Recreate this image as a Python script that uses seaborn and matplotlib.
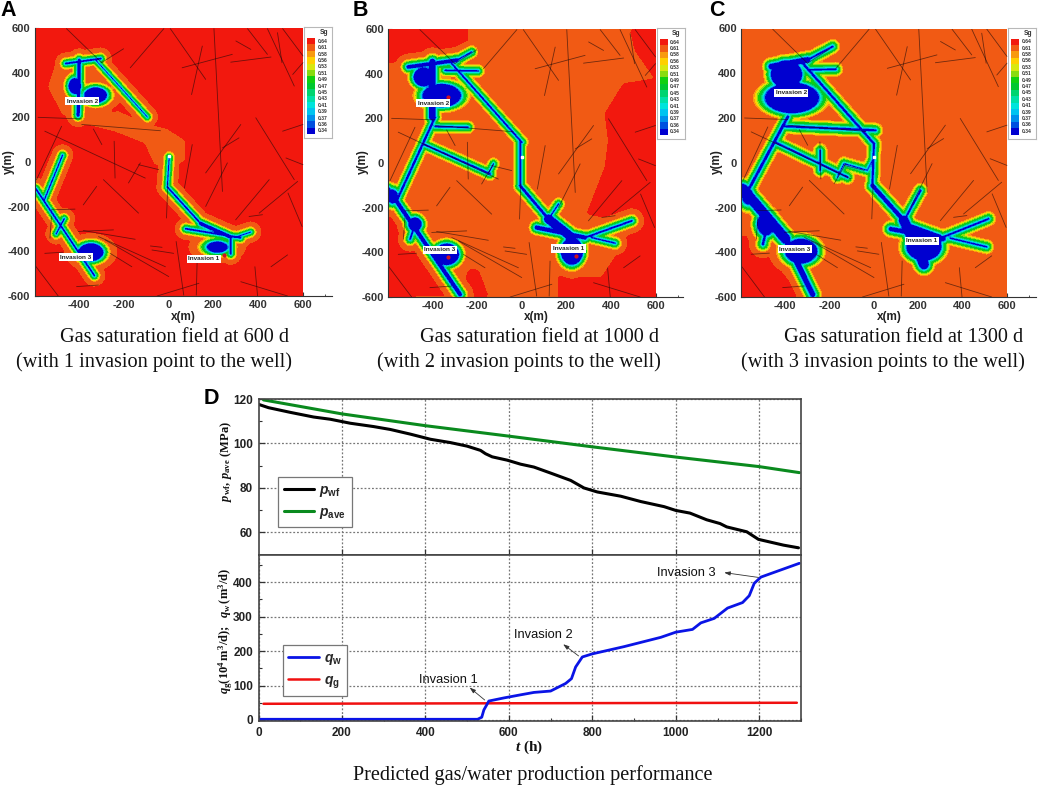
import numpy as np
import pandas as pd
import seaborn as sns
import matplotlib
matplotlib.use("Agg")
import matplotlib.pyplot as plt
from matplotlib.path import Path
from matplotlib.patches import Rectangle
from matplotlib.ticker import MultipleLocator

# ---- panel D curves
t_pwf = [0, 24, 76, 132, 172, 220, 276, 316, 364, 412, 460, 500, 532, 544, 560, 596, 628, 660, 700, 748,
         780, 812, 868, 916, 972, 1000, 1034, 1074, 1106, 1122, 1170, 1198, 1258, 1294]
pwf = [117.6, 116.1, 114, 111.9, 110.9, 109.1, 107.6, 106.3, 104.2, 101.9, 100.4, 98.8, 96.9, 95.4, 94, 92.5, 90.7, 89.4,
       86.7, 83.4, 80, 78.2, 76.3, 73.9, 71.6, 69.9, 68.7, 65.7, 64, 62.5, 60.3, 56.9, 54.3, 53.1]
t_pave = [12, 200, 400, 600, 800, 1000, 1200, 1296]
pave = [119.6, 113.3, 108, 103.3, 98.5, 93.9, 89.6, 86.9]
t_qw = [0, 525, 535, 540, 552, 588, 628, 660, 700, 736, 750, 760, 776, 800, 876, 964, 1000, 1040, 1060, 1092,
        1124, 1160, 1176, 1188, 1204, 1296]
qw = [2, 2, 8, 29, 55, 64, 73, 80, 84, 106, 120, 154, 183, 192, 213, 240, 255, 263, 282, 295,
      325, 341, 361, 397, 415, 455]
t_qg = [12, 600, 1290]
qg = [47, 48.5, 50]

# ---- fractures shared by the three maps: x0, y0, x1, y1
fractures = [
    (-22, 597, -172, 422), (7, 597, 165, 370), (202, 597, 240, -132), (60, 422, 284, 482), (150, 519, 102, 302),
    (277, 447, 457, 470), (352, 597, 441, 482), (300, 542, 367, 504), (486, 579, 506, 445), (441, 597, 561, 340),
    (509, 597, 600, 475), (554, 392, 600, 445), (509, 138, 600, 168), (389, 198, 561, -79), (524, 18, 600, -12),
    (322, 168, 165, -49), (314, 108, 240, 63), (105, 78, 70, -117), (262, -4, 165, -199), (-457, 597, -300, 445),
    (-202, 507, -300, 445), (-584, 200, -389, 193), (-389, 168, -37, 140), (-337, 148, -299, 78), (-244, 93, -240, -72),
    (-180, -94, -127, -4), (-554, 138, -105, -72), (-135, -12, -45, -34), (-479, 160, -591, -79), (-322, -109, -382, -192),
    (-292, -79, -135, -229), (-419, -211, -524, -214), (-524, -244, -531, -341), (-404, -311, -247, -304),
    (-382, -307, -150, -346), (-314, -334, -15, -469), (-284, -349, 0, -513), (-262, -409, -165, -469),
    (-554, -409, -472, -404), (-82, -376, -30, -382), (-75, -394, 22, -409), (33, -356, 67, -596), (-4, -94, -10, -251),
    (127, -439, 123, -596), (-52, -600, 135, -543), (322, -536, 531, -600), (385, -469, 397, -600), (457, -469, 531, -416),
    (299, -259, 449, -79), (404, -229, 576, -87), (359, -244, 419, -236), (533, -139, 596, -289), (-599, -461, -494, -600),
    (-412, -558, -314, -551),
]

# ---- water channels per map: x0, y0, x1, y1, half width
channels_a = [
    (-460, 441, -304, 463, 4), (-400, 456, -405, 209, 7), (-327, 457, -96, 202, 2), (-475, 30, -557, -172, 3),
    (-594, -120, -333, -508, 4), (-503, -321, -467, -254, 3), (2, 22, -6, -105, 2), (-6, -112, 143, -276, 4),
    (76, -299, 321, -339, 4), (143, -276, 277, -336, 8), (277, -336, 277, -411, 4), (292, -339, 366, -314, 2),
]
blobs_a = [(-327, 299, 50, 35), (-348, -404, 55, 40), (217, -381, 45, 25), (-420, 340, 28, 35)]
channels_b = [
    (-509, 430, -292, 460, 8), (-292, 460, -225, 497, 3), (-344, 415, -195, 412, 3), (-401, 452, -401, 205, 14),
    (-314, 445, 0, 93, 4), (-389, 205, -561, -169, 5), (-389, 163, -240, 160, 3), (-442, 85, -142, -49, 4),
    (-127, -4, -150, -49, 2), (-599, -117, -277, -588, 9), (-479, -274, -501, -341, 4), (-7, 100, -7, -102, 4),
    (-7, -102, 120, -251, 6), (120, -251, 165, -184, 3), (67, -289, 284, -334, 9), (120, -251, 225, -334, 20),
    (284, -334, 494, -259, 4), (314, -334, 419, -359, 3),
]
blobs_b = [(-359, 302, 85, 52), (-440, 385, 45, 42), (-337, -409, 55, 48), (-479, -274, 30, 30), (225, -395, 50, 60),
           (-580, -150, 25, 30)]
channels_c = [
    (-464, 430, -299, 460, 12), (-299, 460, -187, 519, 4), (-299, 415, -172, 418, 3), (-322, 445, 0, 85, 5),
    (-389, 205, -584, -154, 6), (-404, 163, 7, 145, 4), (-449, 93, -120, -64, 4), (-243, 55, -243, -34, 3),
    (-135, -4, -165, -64, 2), (-135, -4, -30, -34, 2), (-30, -34, 0, 25, 2), (0, 85, -7, -94, 4),
    (-591, -117, -400, -340, 22), (-400, -340, -277, -588, 12), (-501, -364, -479, -274, 5), (-7, -102, 135, -259, 9),
    (135, -259, 210, -124, 4), (75, -296, 314, -341, 9), (135, -259, 225, -454, 22), (150, -290, 290, -340, 20),
    (300, -337, 516, -251, 4), (344, -337, 509, -376, 3),
]
blobs_c = [(-370, 290, 120, 68), (-395, 395, 70, 62), (-487, -274, 40, 50), (-329, -395, 72, 55), (225, -375, 78, 62),
           (-570, -150, 25, 35)]

# ---- background zones: orange inside a red field (A), red inside an orange field (B, C)
orange_a = [
    [(-229, 232), (-95, 172), (-6, 150), (76, 97), (76, 7), (24, -22), (-65, -15), (-110, 82), (-244, 135), (-393, 172)],
    [(-542, 336), (-505, 455), (-408, 485), (-304, 470), (-229, 276), (-274, 202), (-393, 157), (-482, 217)],
]
red_b = [
    [(-600, 600), (-240, 600), (-240, 540), (-374, 490), (-524, 467), (-600, 445)],
    [(487, 597), (509, 504), (599, 377), (457, 355), (374, 220), (389, 100), (374, -19), (292, -229), (389, -244),
     (509, -251), (457, -364), (359, -513), (254, -513), (165, -506), (165, -603), (602, -603), (602, 597)],
    [(-599, -169), (-516, -244), (-449, -439), (-284, -588), (-600, -600)],
    [(-240, -480), (-195, -480), (-150, -600), (-270, -600)],
]
red_c = [[(-600, -330), (-548, -330), (-330, -597), (-600, -600)]]

labels_a = [("Invasion 2", -387, 272), ("Invasion 3", -415, -426), ("Invasion 1", 158, -433)]
labels_b = [("Invasion 2", -397, 268), ("Invasion 3", -367, -389), ("Invasion 1", 210, -383)]
labels_c = [("Invasion 2", -374, 313), ("Invasion 3", -356, -386), ("Invasion 1", 217, -349)]
points = [(245, -415), (-330, -420), (-330, 295)]

level_labels = ["0.64", "0.61", "0.58", "0.56", "0.53", "0.51", "0.49", "0.47", "0.45", "0.43", "0.41", "0.39", "0.37",
                "0.36", "0.34"]
level_colors = ["#f2180e", "#f15a14", "#f89a10", "#ffd000", "#d8e810", "#88dc10", "#10d010", "#00c830", "#00d470",
                "#00e0a8", "#00e4dc", "#00c4f0", "#0090ec", "#0050e0", "#0000d0"]

W, H = 1038, 786


def px_axes(fig, left, top, right, bottom, **kw):
    return fig.add_axes([left / W, 1 - bottom / H, (right - left) / W, (bottom - top) / H], **kw)


def fig_text(fig, x, y, s, **kw):
    kw.setdefault("ha", "center")
    kw.setdefault("va", "center")
    fig.text(x / W, 1 - y / H, s, **kw)


def seg_dist(X, Y, x0, y0, x1, y1):
    dx, dy = x1 - x0, y1 - y0
    u = np.clip(((X - x0) * dx + (Y - y0) * dy) / (dx * dx + dy * dy), 0, 1)
    return np.hypot(X - x0 - u * dx, Y - y0 - u * dy)


def blur(Z, n=9):
    # soften zone corners, the source figure is a fuzzy raster
    k = np.ones(n) / n
    Z = np.apply_along_axis(lambda r: np.convolve(np.pad(r, n, mode="edge"), k, mode="same")[n:-n], 0, Z)
    return np.apply_along_axis(lambda r: np.convolve(np.pad(r, n, mode="edge"), k, mode="same")[n:-n], 1, Z)


def in_zones(X, Y, zones):
    pts = np.column_stack([X.ravel(), Y.ravel()])
    mask = np.zeros(X.shape)
    for z in zones:
        mask = np.maximum(mask, Path(z).contains_points(pts).reshape(X.shape).astype(float))
    return blur(mask)


def sg_field(X, Y, channels, blobs, base, scale):
    d = np.full(X.shape, 1e9)
    for x0, y0, x1, y1, w in channels:
        d = np.minimum(d, seg_dist(X, Y, x0, y0, x1, y1) - w)
    for cx, cy, rx, ry in blobs:
        d = np.minimum(d, (np.hypot((X - cx) / rx, (Y - cy) / ry) - 1) * min(rx, ry))
    prof = np.interp(d / scale, [0, 3, 5, 8, 11, 18, 24, 28, 32, 36, 58, 62],
                     [.34, .36, .38, .42, .45, .49, .52, .56, .59, .605, .61, .64])
    return np.minimum(prof, base)


def draw_map(fig, box, channels, blobs, base_fn, scale, labels, n_pts):
    left, top, right, bottom, spine_right = box
    ax = px_axes(fig, left, top, spine_right, bottom)
    x = np.linspace(-600, 600, 481)
    X, Y = np.meshgrid(x, x)
    Z = sg_field(X, Y, channels, blobs, base_fn(X, Y), scale)

    vals = np.array([float(v) for v in level_labels[::-1]])
    bounds = np.r_[0.30, (vals[1:] + vals[:-1]) / 2, 0.70]
    ax.contourf(X, Y, Z, levels=bounds, colors=level_colors[::-1])

    for x0, y0, x1, y1 in fractures:
        ax.plot([x0, x1], [y0, y1], color="#1a0a0a", lw=0.6, alpha=0.6)
    for (px_, py_) in points[:n_pts]:
        ax.plot(px_, py_, "o", color="#d01020", ms=2)
    ax.plot(2, 25, "s", color="white", ms=2)
    for s, tx, ty in labels:
        ax.text(tx, ty, s, fontsize=4.6, fontweight="bold", color="#222222", ha="center", va="center",
                bbox=dict(fc="white", ec="none", pad=1.2))

    ax.set_xlim(-600, 600 + (spine_right - right) * 1200 / (right - left))
    ax.set_ylim(-600, 600)
    ax.set_xticks(np.arange(-400, 601, 200))
    ax.set_yticks(np.arange(-600, 601, 200))
    ax.xaxis.set_minor_locator(MultipleLocator(100))
    ax.tick_params(which="major", direction="in", length=3, width=0.8, labelsize=8, colors="#333333", pad=3)
    ax.tick_params(which="minor", direction="in", length=1.5, width=0.6, colors="#333333")
    for lab in ax.get_xticklabels() + ax.get_yticklabels():
        lab.set_fontweight("bold")
    ax.spines["top"].set_visible(False)
    ax.spines["right"].set_visible(False)
    ax.spines["left"].set_color("#333333")
    ax.spines["bottom"].set_color("#333333")

    # tecplot style legend box
    leg = px_axes(fig, right + 1, top - 1, right + 29, top + 110)
    leg.set_xlim(0, 28)
    leg.set_ylim(111, 0)
    leg.set_xticks([])
    leg.set_yticks([])
    for sp in leg.spines.values():
        sp.set_color("#b8b8b8")
    leg.text(20, 5.5, "Sg", fontsize=4.8, fontweight="bold", color="#333333", ha="center", va="center")
    for i, (c, s) in enumerate(zip(level_colors, level_labels)):
        y = 11 + i * 6.4
        leg.add_patch(Rectangle((3, y), 8, 6.4, fc=c, ec="none"))
        leg.text(13.5, y + 3.2, s, fontsize=3.6, fontweight="bold", color="#333333", va="center")
    return ax


sns.set_style("ticks")
plt.rcParams["font.family"] = ["Liberation Sans", "DejaVu Sans"]
plt.rcParams["axes.unicode_minus"] = False
plt.rcParams["mathtext.fontset"] = "custom"
plt.rcParams["mathtext.rm"] = "Liberation Serif:bold"
plt.rcParams["mathtext.it"] = "Liberation Serif:italic:bold"
plt.rcParams["mathtext.sf"] = "Liberation Sans:italic:bold"
plt.rcParams["mathtext.bf"] = "Liberation Sans:bold"

fig = plt.figure(figsize=(W / 100, H / 100), dpi=100)

draw_map(fig, (34.5, 28, 303, 296, 332), channels_a, blobs_a,
         lambda X, Y: 0.64 - 0.03 * in_zones(X, Y, orange_a), 0.8, labels_a, 1)
draw_map(fig, (388, 29, 655.5, 297, 683), channels_b, blobs_b,
         lambda X, Y: 0.61 + 0.03 * in_zones(X, Y, red_b), 0.9, labels_b, 3)
draw_map(fig, (741, 28.5, 1007, 297, 1036), channels_c, blobs_c,
         lambda X, Y: 0.61 + 0.03 * in_zones(X, Y, red_c), 1.0, labels_c, 0)

for s, x, y in [("A", 8, 10), ("B", 360, 10), ("C", 717, 10), ("D", 211, 398)]:
    fig_text(fig, x, y, s, fontsize=15.5, fontweight="bold", color="black")
for xm, ym in [(183, 317), (536, 317), (889, 317)]:
    fig_text(fig, xm, ym, "x(m)", fontsize=8.5, fontweight="bold", color="#222222")
for xm, ym in [(9, 162), (363, 162), (717, 162)]:
    fig_text(fig, xm, ym, "y(m)", fontsize=8.5, fontweight="bold", color="#222222", rotation=90)

captions = [
    (175, 337, "Gas saturation field at 600 d"), (154, 362, "(with 1 invasion point to the well)"),
    (540, 337, "Gas saturation field at 1000 d"), (519, 362, "(with 2 invasion points to the well)"),
    (904, 337, "Gas saturation field at 1300 d"), (883, 362, "(with 3 invasion points to the well)"),
    (533, 775, "Predicted gas/water production performance"),
]
for x, y, s in captions:
    fig_text(fig, x, y, s, fontsize=14.6, family="Liberation Serif", color="#111111")

# ---- panel D
top_ax = px_axes(fig, 258.5, 399, 801, 554.7)
bot_ax = px_axes(fig, 258.5, 554.7, 801, 721)

df_pwf = pd.DataFrame({"t": t_pwf, "v": pwf})
df_pave = pd.DataFrame({"t": t_pave, "v": pave})
df_qw = pd.DataFrame({"t": t_qw, "v": qw})
df_qg = pd.DataFrame({"t": t_qg, "v": qg})

sns.lineplot(data=df_pwf, x="t", y="v", ax=top_ax, color="black", lw=2.2, errorbar=None,
             label=r"$\mathsf{p}_{\mathbf{wf}}$")
sns.lineplot(data=df_pave, x="t", y="v", ax=top_ax, color="#0a8a1e", lw=2.2, errorbar=None,
             label=r"$\mathsf{p}_{\mathbf{ave}}$")
sns.lineplot(data=df_qg, x="t", y="v", ax=bot_ax, color="#f01010", lw=1.8, errorbar=None,
             label=r"$\mathsf{q}_{\mathbf{g}}$")
sns.lineplot(data=df_qw, x="t", y="v", ax=bot_ax, color="#0a14e6", lw=2, errorbar=None,
             label=r"$\mathsf{q}_{\mathbf{w}}$")

top_ax.set_xlim(0, 1300)
top_ax.set_ylim(50, 120)
bot_ax.set_xlim(0, 1300)
bot_ax.set_ylim(-3, 480)
top_ax.set_yticks([60, 80, 100, 120])
bot_ax.set_yticks([0, 100, 200, 300, 400])
top_ax.set_xticks(np.arange(200, 1300, 200))
bot_ax.set_xticks(np.arange(0, 1300, 200))
top_ax.yaxis.set_minor_locator(MultipleLocator(10))
bot_ax.yaxis.set_minor_locator(MultipleLocator(50))
bot_ax.xaxis.set_minor_locator(MultipleLocator(100))
top_ax.tick_params(axis="x", length=0, labelbottom=False)
for a in (top_ax, bot_ax):
    a.set_xlabel("")
    a.set_ylabel("")
    a.grid(True, which="major", color="#777777", ls=(0, (1.5, 1.5)), lw=0.9)
    a.set_axisbelow(True)
    a.tick_params(which="major", direction="in", length=4, width=0.9, labelsize=8.5, color="#333333",
                  labelcolor="#222222", pad=4)
    a.tick_params(which="minor", direction="in", length=2, width=0.8, color="#333333")
    for lab in a.get_xticklabels() + a.get_yticklabels():
        lab.set_fontweight("bold")
    for sp in a.spines.values():
        sp.set_color("#444444")
        sp.set_linewidth(1.2)


def box_legend(a, order, box):
    handles, labs = a.get_legend_handles_labels()
    handles = [handles[i] for i in order]
    labs = [labs[i] for i in order]
    leg = a.legend(handles, labs, loc="center", bbox_to_anchor=box, bbox_transform=fig.transFigure, fontsize=10,
                   frameon=True, fancybox=False, edgecolor="#777777", framealpha=1, handlelength=2.2,
                   labelspacing=0.45, borderpad=0.4, handletextpad=0.35, borderaxespad=0)
    leg.get_frame().set_linewidth(0.9)


box_legend(top_ax, [0, 1], (315 / W, 1 - 502 / H))
box_legend(bot_ax, [1, 0], (315 / W, 1 - 670.5 / H))

notes = [("Invasion 1", 455, 116, 542, 58, 506, 94), ("Invasion 2", 682, 248, 767, 186, 730, 220),
         ("Invasion 3", 1026, 426, 1198, 414, 1116, 428)]
for s, tx, ty, x0, y0, x1, y1 in notes:
    bot_ax.text(tx, ty, s, fontsize=9.3, color="#111111", ha="center", va="center")
    bot_ax.annotate("", xy=(x1, y1), xytext=(x0, y0),
                    arrowprops=dict(arrowstyle="-|>,head_length=0.35,head_width=0.12", color="#333333", lw=0.6,
                                    shrinkA=0, shrinkB=0))

fig_text(fig, 226, 461, r"$p_{\mathrm{wf}},\,p_{\mathrm{ave}}\ \mathrm{(MPa)}$", fontsize=9, rotation=90, color="#111111")
fig_text(fig, 226, 631, r"$q_{\mathrm{g}}\mathrm{(10^4\,m^3/d);}\ \ q_{\mathrm{w}}\,\mathrm{(m^3/d)}$", fontsize=9,
         rotation=90, color="#111111")
fig_text(fig, 529, 747, r"$t\ \mathrm{(h)}$", fontsize=11, color="#111111")

fig.savefig("out.png", dpi=100)
